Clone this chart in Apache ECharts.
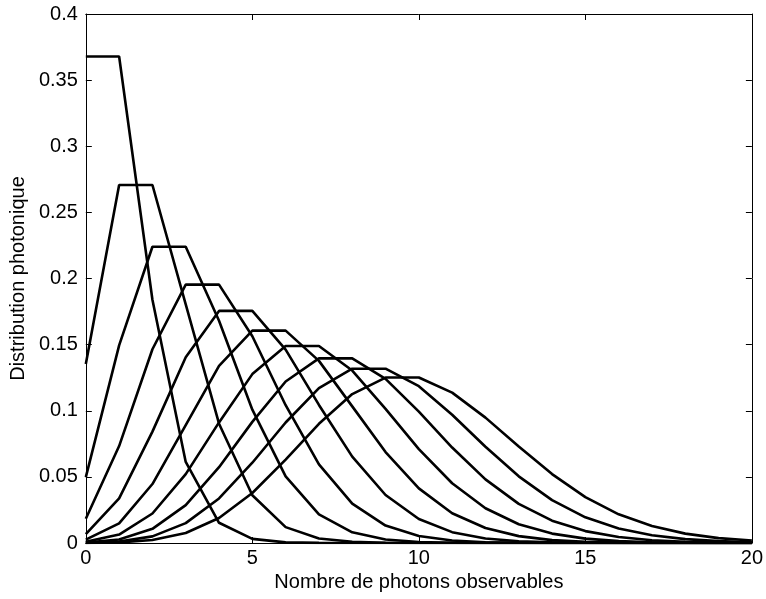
<!DOCTYPE html>
<html><head><meta charset="utf-8">
<script src="https://cdn.jsdelivr.net/npm/echarts@6/dist/echarts.min.js"></script>
<style>html,body{margin:0;padding:0;background:#fff}#c{width:766px;height:599px}</style>
</head><body><div id="c"></div>
<script>
const xValues = [0,1,2,3,4,5,6,7,8,9,10,11,12,13,14,15,16,17,18,19,20];
const xTicks = [0,5,10,15,20];
const yTicks = [0,0.05,0.1,0.15,0.2,0.25,0.3,0.35,0.4];
const curve1 = [0.3679,0.3679,0.1839,0.0613,0.0153,0.0031,0.0005,0.0001,0,0,0,0,0,0,0,0,0,0,0,0,0];
const curve2 = [0.1353,0.2707,0.2707,0.1804,0.0902,0.0361,0.0120,0.0034,0.0009,0.0002,0,0,0,0,0,0,0,0,0,0,0];
const curve3 = [0.0498,0.1494,0.2240,0.2240,0.1680,0.1008,0.0504,0.0216,0.0081,0.0027,0.0008,0.0002,0.0001,0,0,0,0,0,0,0,0];
const curve4 = [0.0183,0.0733,0.1465,0.1954,0.1954,0.1563,0.1042,0.0595,0.0298,0.0132,0.0053,0.0019,0.0006,0.0002,0.0001,0,0,0,0,0,0];
const curve5 = [0.0067,0.0337,0.0842,0.1404,0.1755,0.1755,0.1462,0.1044,0.0653,0.0363,0.0181,0.0082,0.0034,0.0013,0.0005,0.0002,0,0,0,0,0];
const curve6 = [0.0025,0.0149,0.0446,0.0892,0.1339,0.1606,0.1606,0.1377,0.1033,0.0688,0.0413,0.0225,0.0113,0.0052,0.0022,0.0009,0.0003,0.0001,0,0,0];
const curve7 = [0.0009,0.0064,0.0223,0.0521,0.0912,0.1277,0.1490,0.1490,0.1304,0.1014,0.0710,0.0452,0.0263,0.0142,0.0071,0.0033,0.0014,0.0006,0.0002,0.0001,0];
const curve8 = [0.0003,0.0027,0.0107,0.0286,0.0573,0.0916,0.1221,0.1396,0.1396,0.1241,0.0993,0.0722,0.0481,0.0296,0.0169,0.0090,0.0045,0.0021,0.0009,0.0004,0.0002];
const curve9 = [0.0001,0.0011,0.0050,0.0150,0.0337,0.0607,0.0911,0.1171,0.1318,0.1318,0.1186,0.0970,0.0728,0.0504,0.0324,0.0194,0.0109,0.0058,0.0029,0.0014,0.0006];
const curve10 = [0.0000,0.0005,0.0023,0.0076,0.0189,0.0378,0.0631,0.0901,0.1126,0.1251,0.1251,0.1137,0.0948,0.0729,0.0521,0.0347,0.0217,0.0128,0.0071,0.0037,0.0019];
const curves = [curve1,curve2,curve3,curve4,curve5,curve6,curve7,curve8,curve9,curve10];
const xTitle = 'Nombre de photons observables';
const yTitle = 'Distribution photonique';

const FONT = 'Liberation Sans, Arial, Helvetica, sans-serif';
const FS = 20;
const chart = echarts.init(document.getElementById('c'), null, {renderer:'canvas'});
const lineStyle = {color:'#000', width:1};
const tick = {show:true, inside:true, length:6, lineStyle:{color:'#000', width:1}};
function fmt(v){ return String(Math.round(v*1000)/1000); }
chart.setOption({
  animation:false,
  backgroundColor:'#fff',
  grid:{left:85, right:11, top:14, bottom:56, containLabel:false},
  xAxis:[{
    type:'value', min:xTicks[0], max:xTicks[xTicks.length-1], interval:xTicks[1]-xTicks[0],
    position:'bottom',
    axisLine:{show:true, onZero:false, lineStyle}, axisTick:tick, splitLine:{show:false},
    axisLabel:{color:'#000', fontSize:FS, fontFamily:FONT, margin:5, formatter:fmt},
    name:xTitle, nameLocation:'middle', nameGap:25,
    nameTextStyle:{color:'#000', fontSize:FS, fontFamily:FONT}
  },{
    type:'value', min:xTicks[0], max:xTicks[xTicks.length-1], interval:xTicks[1]-xTicks[0],
    position:'top',
    axisLine:{show:true, onZero:false, lineStyle}, axisTick:tick, splitLine:{show:false},
    axisLabel:{show:false}
  }],
  yAxis:[{
    type:'value', min:yTicks[0], max:yTicks[yTicks.length-1], interval:yTicks[1]-yTicks[0],
    position:'left',
    axisLine:{show:true, onZero:false, lineStyle}, axisTick:tick, splitLine:{show:false},
    axisLabel:{color:'#000', fontSize:FS, fontFamily:FONT, margin:8, formatter:fmt},
    name:yTitle, nameLocation:'middle', nameGap:54,
    nameTextStyle:{color:'#000', fontSize:FS, fontFamily:FONT}
  },{
    type:'value', min:yTicks[0], max:yTicks[yTicks.length-1], interval:yTicks[1]-yTicks[0],
    position:'right',
    axisLine:{show:true, onZero:false, lineStyle}, axisTick:tick, splitLine:{show:false},
    axisLabel:{show:false}
  }],
  series: curves.map((c,i)=>({
    type:'line', name:'lambda '+(i+1), xAxisIndex:0, yAxisIndex:0,
    data: xValues.map((x,j)=>[x,c[j]]),
    showSymbol:false, symbol:'none', clip:true,
    lineStyle:{color:'#000', width:2.6}, itemStyle:{color:'#000'}
  }))
});
</script></body></html>
